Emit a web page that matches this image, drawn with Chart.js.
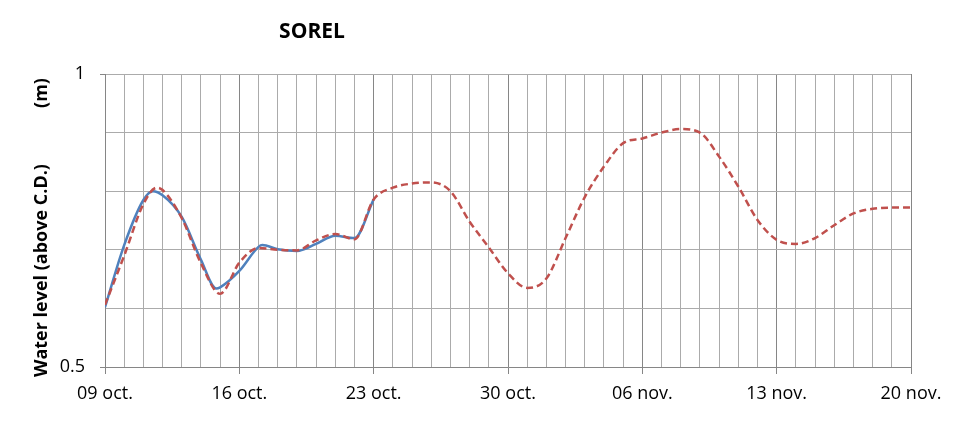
<!DOCTYPE html>
<html>
<head>
<meta charset="utf-8">
<title>SOREL</title>
<script src="https://cdn.jsdelivr.net/npm/chart.js@4/dist/chart.umd.min.js"></script>
<style>
    html, body { margin: 0; padding: 0; background: #fff; }
    #wrap { position: relative; width: 969px; height: 421px; }
    #chartTitle {
        position: absolute;
        left: 312px;
        top: 17px;
        transform: translateX(-50%);
        font: bold 21px "Open Sans", sans-serif;
        line-height: 26px;
        color: #000;
    }
</style>
</head>
<body>
<div id="wrap">
    <canvas id="levelChart" width="969" height="421"></canvas>
    <div id="chartTitle">SOREL</div>
</div>
<script>
// Days since 09 oct.
const obsDays = [0, 1, 2, 2.5, 3, 4, 5, 5.8, 6, 7, 8, 8.2, 9, 10, 11, 12, 13, 14];
const obsLevel = [0.602, 0.708, 0.785, 0.800, 0.793, 0.756, 0.683, 0.634, 0.636, 0.664, 0.705, 0.708, 0.701, 0.698, 0.710, 0.724, 0.720, 0.786];

const predDays = [0, 1, 2, 2.7, 3, 4, 5, 6, 7, 8, 9, 10, 11, 12, 13, 14, 15, 16, 17, 18, 19, 20,
    21, 22, 23, 24, 25, 26, 27, 28, 29, 30, 31, 32, 33, 34, 35, 36, 37, 38, 39, 40, 41, 42];
const predLevel = [0.606, 0.690, 0.778, 0.806, 0.802, 0.754, 0.677, 0.625, 0.678, 0.703, 0.700, 0.699, 0.716, 0.727, 0.718, 0.786,
    0.806, 0.813, 0.815, 0.800, 0.748, 0.704, 0.660, 0.635, 0.651, 0.720, 0.790, 0.842, 0.882, 0.890, 0.900, 0.906, 0.900,
    0.859, 0.808, 0.751, 0.717, 0.710, 0.720, 0.742, 0.762, 0.770, 0.772, 0.772];

const xTickDays = [0, 7, 14, 21, 28, 35, 42];
const xTickLabels = ['09 oct.', '16 oct.', '23 oct.', '30 oct.', '06 nov.', '13 nov.', '20 nov.'];
const yTickValues = [0.5, 1];
const yTickLabels = ['0.5', '1'];

const MAJOR = '#868686';
const MINOR = '#ababab';

function toPoints(xs, ys) {
    return xs.map((x, i) => ({ x: x, y: ys[i] }));
}

function yLabelIndex(v) {
    return yTickValues.findIndex(t => Math.abs(t - v) < 1e-6);
}

const tickFont = { family: '"Open Sans", sans-serif', size: 18 };

new Chart(document.getElementById('levelChart'), {
    type: 'line',
    data: {
        datasets: [
            {
                label: 'Predicted',
                data: toPoints(predDays, predLevel),
                borderColor: '#c0504d',
                borderWidth: 2.5,
                borderDash: [7, 4],
                pointRadius: 0,
                cubicInterpolationMode: 'monotone',
                fill: false
            },
            {
                label: 'Observed',
                data: toPoints(obsDays, obsLevel),
                borderColor: '#4f81bd',
                borderWidth: 2.5,
                pointRadius: 0,
                cubicInterpolationMode: 'monotone',
                fill: false
            }
        ]
    },
    options: {
        responsive: false,
        animation: false,
        devicePixelRatio: 1,
        layout: { padding: { top: 74, right: 58, bottom: 0, left: 0 } },
        plugins: {
            legend: { display: false },
            tooltip: { enabled: false }
        },
        scales: {
            x: {
                type: 'linear',
                min: 0,
                max: 42,
                ticks: {
                    stepSize: 1,
                    autoSkip: false,
                    maxRotation: 0,
                    padding: 9,
                    color: '#000',
                    font: tickFont,
                    callback: v => {
                        const i = xTickDays.indexOf(v);
                        return i >= 0 ? xTickLabels[i] : '';
                    }
                },
                grid: {
                    color: ctx => (ctx.tick && ctx.tick.value % 7 === 0) ? MAJOR : MINOR,
                    tickColor: ctx => (ctx.tick && ctx.tick.value % 7 === 0) ? MAJOR : 'transparent',
                    tickLength: 7
                },
                border: { color: MAJOR },
                afterFit: s => { s.height = 54; }
            },
            y: {
                min: 0.5,
                max: 1,
                ticks: {
                    stepSize: 0.1,
                    padding: 15,
                    color: '#000',
                    font: tickFont,
                    callback: v => {
                        const i = yLabelIndex(v);
                        return i >= 0 ? yTickLabels[i] : '';
                    }
                },
                grid: {
                    color: MINOR,
                    tickColor: ctx => (ctx.tick && yLabelIndex(ctx.tick.value) >= 0) ? MAJOR : 'transparent',
                    tickLength: 5
                },
                border: { color: MAJOR },
                title: {
                    display: true,
                    text: 'Water level (above C.D.)            (m)   ',
                    color: '#000',
                    font: { family: '"Open Sans", sans-serif', size: 18, weight: 'bold' },
                    padding: { top: 31, bottom: 0 }
                },
                afterFit: s => { s.width = 105; }
            }
        }
    }
});
</script>
</body>
</html>
